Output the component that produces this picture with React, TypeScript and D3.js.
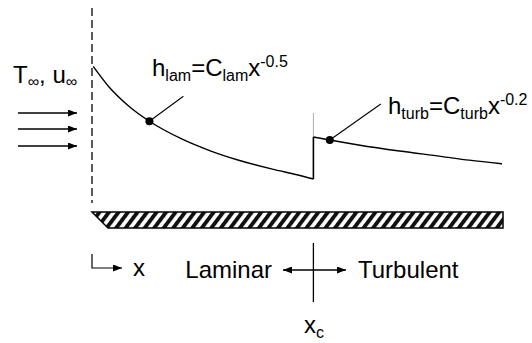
import { useRef, useEffect } from 'react';
import * as d3 from 'd3';

// laminar branch (x along plate, h in arbitrary units)
const lamX = [0.03, 0.4, 0.9, 1.4, 2.2, 2.9, 3.6, 4.4, 5.0, 5.4];
const lamH = [8.35, 7.11, 5.86, 4.92, 3.8, 3.06, 2.47, 1.93, 1.58, 1.31];

// turbulent branch after the transition
const turbX = [5.4, 5.8, 6.5, 7.5, 8.5, 9.2, 10];
const turbH = [3.94, 3.75, 3.44, 3.06, 2.73, 2.49, 2.26];

const xTransition = 5.4;
const plateEnd = 10;
const markLam = { x: 1.4, h: 4.92 };
const markTurb = { x: 5.8, h: 3.75 };
const regionLabels = ['Laminar', 'Turbulent'];

const W = 532;
const H = 343;
const FONT = '"Liberation Sans", Arial, sans-serif';

export default function App() {
  const svgRef = useRef<SVGSVGElement>(null);

  useEffect(() => {
    if (!svgRef.current) return;
    const svg = d3.select(svgRef.current);
    svg.selectAll('*').remove();

    const x = d3.scaleLinear().domain([0, plateEnd]).range([92, 502]);
    const y = d3.scaleLinear().domain([0, 10]).range([200, 40]);

    const defs = svg.append('defs');
    defs.append('marker')
      .attr('id', 'head')
      .attr('markerUnits', 'userSpaceOnUse')
      .attr('viewBox', '0 0 9 7')
      .attr('markerWidth', 9)
      .attr('markerHeight', 7)
      .attr('refX', 9)
      .attr('refY', 3.5)
      .attr('orient', 'auto-start-reverse')
      .append('path')
      .attr('d', 'M0,0L9,3.5L0,7Z')
      .attr('fill', '#000');

    const pat = defs.append('pattern')
      .attr('id', 'hatch')
      .attr('patternUnits', 'userSpaceOnUse')
      .attr('width', 7.6)
      .attr('height', 20)
      .attr('patternTransform', 'rotate(37)');
    pat.append('rect').attr('width', 7.6).attr('height', 20).attr('fill', '#fff');
    pat.append('rect').attr('width', 3.9).attr('height', 20).attr('fill', '#111');

    // leading edge (dashed)
    svg.append('line')
      .attr('x1', x(0)).attr('x2', x(0))
      .attr('y1', 8).attr('y2', 203)
      .attr('stroke', '#333')
      .attr('stroke-width', 1.6)
      .attr('stroke-dasharray', '8,4');

    // free stream arrows
    [113, 129, 146].forEach((yy) => {
      svg.append('line')
        .attr('x1', 18).attr('x2', 77)
        .attr('y1', yy).attr('y2', yy)
        .attr('stroke', '#000')
        .attr('stroke-width', 1.3)
        .attr('marker-end', 'url(#head)');
    });

    const line = d3.line<[number, number]>()
      .x((d) => x(d[0]))
      .y((d) => y(d[1]))
      .curve(d3.curveMonotoneX);

    const lamPts: [number, number][] = lamX.map((v, i) => [v, lamH[i]]);
    const turbPts: [number, number][] = turbX.map((v, i) => [v, turbH[i]]);

    svg.append('path')
      .attr('d', line(lamPts))
      .attr('fill', 'none')
      .attr('stroke', '#000')
      .attr('stroke-width', 1.4);

    // jump at transition
    svg.append('line')
      .attr('x1', x(xTransition)).attr('x2', x(xTransition))
      .attr('y1', y(lamH[lamH.length - 1])).attr('y2', y(turbH[0]))
      .attr('stroke', '#000')
      .attr('stroke-width', 1.6);
    svg.append('line')
      .attr('x1', x(xTransition)).attr('x2', x(xTransition))
      .attr('y1', y(turbH[0])).attr('y2', 113)
      .attr('stroke', '#999')
      .attr('stroke-width', 0.8);

    svg.append('path')
      .attr('d', line(turbPts))
      .attr('fill', 'none')
      .attr('stroke', '#000')
      .attr('stroke-width', 1.4);

    // leaders + dots
    const leaders = [
      { p: markLam, dx: 34, dy: -25 },
      { p: markTurb, dx: 51, dy: -36 },
    ];
    leaders.forEach(({ p, dx, dy }) => {
      svg.append('line')
        .attr('x1', x(p.x)).attr('y1', y(p.h))
        .attr('x2', x(p.x) + dx).attr('y2', y(p.h) + dy)
        .attr('stroke', '#000')
        .attr('stroke-width', 1.1);
      svg.append('circle')
        .attr('cx', x(p.x)).attr('cy', y(p.h))
        .attr('r', 4)
        .attr('fill', '#000');
    });

    // formula labels
    const formula = (tx: number, ty: number, sub: string, sup: string) => {
      const t = svg.append('text')
        .attr('x', tx).attr('y', ty)
        .attr('font-family', FONT)
        .attr('font-size', 24)
        .attr('fill', '#000');
      t.append('tspan').text('h');
      t.append('tspan').attr('font-size', 16).attr('dy', 5).text(sub);
      t.append('tspan').attr('dy', -5).text('=C');
      t.append('tspan').attr('font-size', 16).attr('dy', 5).text(sub);
      t.append('tspan').attr('dy', -5).text('x');
      t.append('tspan').attr('font-size', 16).attr('dy', -9).text(sup);
    };
    formula(152, 76, 'lam', '-0.5');
    formula(388, 114, 'turb', '-0.2');

    // T_inf, u_inf
    const tu = svg.append('text')
      .attr('x', 13).attr('y', 83)
      .attr('font-family', FONT)
      .attr('font-size', 24);
    tu.append('tspan').text('T');
    tu.append('tspan').attr('font-size', 16).attr('dy', 4).text('∞');
    tu.append('tspan').attr('dy', -4).text(', u');
    tu.append('tspan').attr('font-size', 16).attr('dy', 4).text('∞');

    // plate
    const plateTop = 212;
    const plateBot = 228;
    svg.append('path')
      .attr('d', `M${x(0)},${plateTop}L${x(plateEnd) + 1},${plateTop}L${x(plateEnd) + 1},${plateBot}L${x(0) + 16},${plateBot}Z`)
      .attr('fill', 'url(#hatch)')
      .attr('stroke', '#000')
      .attr('stroke-width', 1.5);

    // x axis hint
    svg.append('path')
      .attr('d', `M${x(0)},254V268H122`)
      .attr('fill', 'none')
      .attr('stroke', '#000')
      .attr('stroke-width', 1.2)
      .attr('marker-end', 'url(#head)');
    svg.append('text')
      .attr('x', 133).attr('y', 276)
      .attr('font-family', FONT).attr('font-size', 24)
      .text('x');

    // transition marker
    const xc = x(xTransition);
    svg.append('line')
      .attr('x1', xc).attr('x2', xc)
      .attr('y1', 243).attr('y2', 302)
      .attr('stroke', '#000').attr('stroke-width', 1.3);
    svg.append('line')
      .attr('x1', 283).attr('x2', 346)
      .attr('y1', 270).attr('y2', 270)
      .attr('stroke', '#000').attr('stroke-width', 1.3)
      .attr('marker-start', 'url(#head)')
      .attr('marker-end', 'url(#head)');
    svg.append('text')
      .attr('x', 272).attr('y', 278)
      .attr('text-anchor', 'end')
      .attr('font-family', FONT).attr('font-size', 24)
      .text(regionLabels[0]);
    svg.append('text')
      .attr('x', 358).attr('y', 278)
      .attr('font-family', FONT).attr('font-size', 24)
      .text(regionLabels[1]);

    const xcT = svg.append('text')
      .attr('x', 304).attr('y', 333)
      .attr('font-family', FONT).attr('font-size', 24);
    xcT.append('tspan').text('x');
    xcT.append('tspan').attr('font-size', 16).attr('dy', 5).text('c');
  }, []);

  return (
    <svg
      ref={svgRef}
      width={W}
      height={H}
      style={{ position: 'absolute', left: 0, top: 0, background: '#fff' }}
    />
  );
}
